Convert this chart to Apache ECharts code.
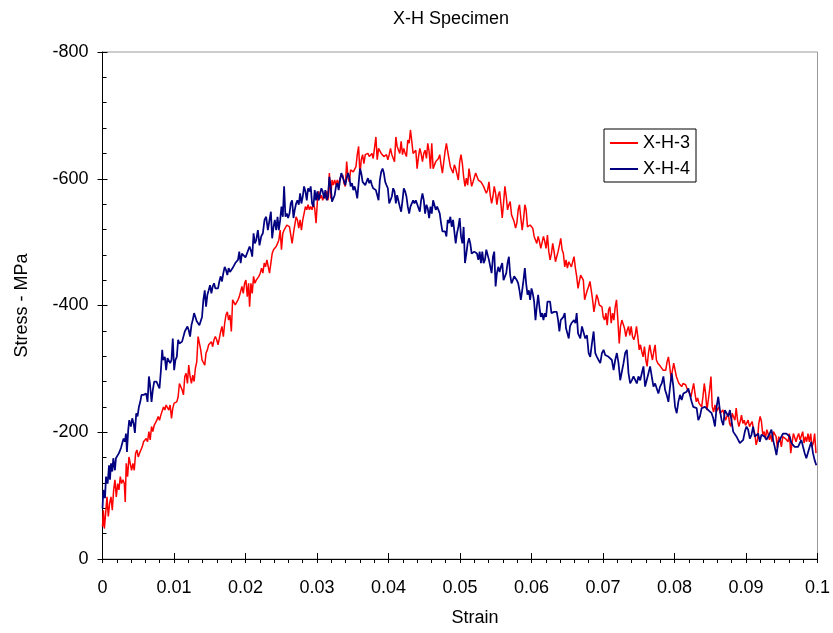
<!DOCTYPE html>
<html lang="en">
<head>
<meta charset="UTF-8">
<title>X-H Specimen</title>
<script src="https://cdn.jsdelivr.net/npm/echarts@6/dist/echarts.min.js"></script>
<style type="text/css">
    html, body { margin: 0; padding: 0; background: #fff; }
    #main { width: 833px; height: 633px; }
</style>
</head>
<body>
<div id="main"></div>
<script type="text/javascript">
// X-H-3 : strain / stress (MPa)
var strain3 = [
0.00000,0.00012,0.00026,0.00044,0.00063,0.00081,0.00100,0.00119,0.00137,0.00156,0.00174,0.00193,0.00212,0.00230,0.00249,0.00267,0.00286,0.00305,0.00318,0.00332,
0.00351,0.00370,0.00388,0.00407,0.00425,0.00444,0.00463,0.00481,0.00500,0.00518,0.00537,0.00556,0.00574,0.00593,0.00611,0.00630,0.00649,0.00667,0.00686,0.00704,
0.00723,0.00742,0.00760,0.00779,0.00797,0.00816,0.00835,0.00853,0.00872,0.00890,0.00909,0.00927,0.00946,0.00965,0.00983,0.01002,0.01020,0.01039,0.01058,0.01076,
0.01095,0.01113,0.01132,0.01151,0.01169,0.01188,0.01206,0.01225,0.01244,0.01262,0.01281,0.01299,0.01318,0.01337,0.01355,0.01374,0.01392,0.01411,0.01430,0.01448,
0.01467,0.01485,0.01504,0.01523,0.01541,0.01560,0.01578,0.01597,0.01616,0.01634,0.01653,0.01671,0.01690,0.01709,0.01727,0.01746,0.01764,0.01783,0.01802,0.01820,
0.01839,0.01857,0.01876,0.01895,0.01913,0.01932,0.01950,0.01969,0.01987,0.02006,0.02025,0.02043,
0.02057,0.02076,0.02094,0.02113,0.02131,0.02150,0.02169,0.02187,0.02206,0.02224,0.02243,0.02262,0.02280,0.02299,0.02317,0.02336,0.02355,0.02373,0.02392,0.02410,
0.02429,0.02448,0.02466,0.02485,0.02503,0.02522,0.02540,0.02559,0.02578,0.02596,0.02615,0.02633,0.02652,0.02671,0.02689,0.02708,0.02726,0.02745,0.02764,0.02782,
0.02801,0.02819,0.02838,0.02857,0.02875,0.02894,0.02912,0.02931,0.02950,0.02968,0.02987,0.03005,0.03024,0.03043,0.03061,0.03080,0.03098,0.03117,0.03136,0.03154,
0.03173,0.03191,0.03210,0.03229,0.03247,0.03266,0.03284,0.03303,0.03322,0.03340,0.03359,0.03377,0.03396,0.03415,0.03433,0.03452,0.03470,0.03489,0.03508,0.03526,
0.03545,0.03563,0.03582,0.03601,0.03619,0.03638,0.03656,0.03675,0.03694,0.03712,0.03731,0.03749,0.03768,0.03786,0.03805,0.03824,0.03842,0.03861,0.03879,0.03898,
0.03917,0.03935,0.03954,0.03972,0.03991,0.04010,0.04028,0.04047,0.04065,0.04084,0.04103,0.04121,0.04140,0.04158,0.04177,0.04196,0.04214,0.04233,0.04251,0.04270,
0.04289,0.04307,0.04326,0.04344,0.04363,0.04382,0.04400,0.04420,
0.04438,0.04456,0.04475,0.04494,0.04512,0.04531,0.04549,0.04568,0.04587,0.04605,0.04624,0.04642,0.04661,0.04680,0.04698,0.04717,0.04735,0.04754,0.04772,0.04791,
0.04810,0.04828,0.04847,0.04865,0.04884,0.04903,0.04921,0.04940,0.04958,0.04977,0.04996,0.05014,0.05033,0.05051,0.05070,0.05089,0.05107,0.05126,0.05144,0.05163,
0.05182,0.05200,0.05219,0.05237,0.05256,0.05275,0.05293,0.05312,0.05330,0.05349,0.05368,0.05386,0.05405,0.05423,0.05442,0.05461,0.05479,0.05498,0.05516,0.05535,
0.05554,0.05572,0.05591,0.05609,0.05628,0.05647,0.05665,0.05684,0.05702,0.05721,0.05739,0.05758,0.05777,0.05795,0.05814,0.05832,0.05851,0.05870,0.05888,0.05907,
0.05925,0.05944,0.05963,0.05981,0.06000,0.06018,0.06037,0.06056,0.06074,0.06093,0.06111,0.06130,0.06149,0.06167,0.06186,0.06204,0.06223,0.06242,0.06260,0.06279,
0.06297,0.06316,0.06335,0.06353,0.06372,0.06390,0.06409,0.06428,0.06446,0.06465,0.06483,0.06502,0.06521,0.06539,0.06558,0.06576,0.06595,0.06614,0.06632,0.06651,
0.06669,0.06687,0.06706,0.06725,0.06743,0.06762,0.06780,0.06799,0.06818,0.06836,0.06855,0.06873,0.06892,0.06911,0.06929,0.06948,0.06966,0.06985,0.07003,0.07022,
0.07041,0.07059,0.07078,0.07096,0.07115,0.07134,0.07152,0.07171,0.07189,0.07208,0.07227,0.07245,0.07264,0.07282,0.07301,0.07320,0.07338,0.07357,0.07375,0.07394,
0.07413,0.07431,0.07450,0.07468,0.07487,0.07506,0.07524,0.07543,0.07561,0.07580,0.07599,0.07617,0.07636,0.07654,0.07673,0.07692,0.07710,0.07729,0.07747,0.07766,
0.07785,0.07803,0.07822,0.07840,0.07859,0.07878,0.07896,0.07915,0.07933,0.07952,0.07970,0.07989,0.08008,0.08026,0.08045,0.08063,0.08082,0.08101,0.08119,0.08138,
0.08156,0.08175,0.08194,0.08212,0.08231,0.08249,0.08268,0.08287,0.08305,0.08324,0.08342,0.08361,0.08380,0.08398,0.08417,0.08435,0.08454,0.08473,0.08491,0.08510,
0.08528,0.08547,0.08566,0.08584,0.08603,0.08621,0.08640,0.08659,0.08677,0.08696,0.08714,0.08733,0.08752,0.08770,0.08789,0.08807,0.08826,0.08845,0.08863,0.08882,
0.08900,0.08919,0.08937,0.08956,0.08975,0.08993,0.09012,0.09030,0.09049,0.09068,0.09086,0.09105,0.09123,0.09142,0.09161,0.09179,0.09198,0.09216,0.09235,0.09254,
0.09272,0.09291,0.09309,0.09328,0.09347,0.09365,0.09384,0.09402,0.09421,0.09440,0.09458,0.09477,0.09495,0.09514,0.09533,0.09551,0.09570,0.09588,0.09607,0.09626,
0.09644,0.09663,0.09681,0.09700,0.09719,0.09737,0.09756,0.09774,0.09793,0.09812,0.09830,0.09849,0.09867,0.09886,0.09905,0.09923,0.09942,0.09960,0.09979
];
var stress3 = [
-51,-77,-48,-72,-98,-67,-88,-98,-77,-109,-125,-98,-119,-109,-130,-119,-125,-119,-90,-151,
-130,-161,-151,-140,-151,-140,-167,-172,-161,-167,-172,-177,-185,-188,-190,-185,-201,-188,-209,-201,
-211,-209,-219,-225,-219,-227,-225,-240,-235,-243,-240,-235,-243,-222,-238,-246,-243,-248,-256,-277,
-280,-267,-259,-288,-293,-277,-306,-288,-277,-290,-280,-301,-311,-351,-348,-330,-314,-317,-306,-325,
-330,-338,-335,-343,-335,-346,-351,-346,-338,-348,-359,-367,-351,-372,-385,-390,-377,-385,-359,-409,
-406,-401,-398,-409,-414,-422,-430,-419,-435,-440,-414,-435,
-398,-435,-419,-446,-435,-440,-438,-446,-451,-459,-451,-467,-461,-472,-469,-451,-448,-482,-488,-485,
-493,-498,-503,-519,-488,-514,-519,-517,-527,-527,-524,-527,-498,-514,-527,-540,-535,-522,-535,-519,
-535,-545,-556,-551,-559,-551,-556,-551,-561,-553,-530,-564,-580,-569,-574,-566,-574,-569,-580,-566,
-609,-569,-598,-590,-598,-590,-598,-590,-601,-598,-606,-593,-588,-627,-603,-595,-614,-616,-611,-609,
-619,-638,-651,-606,-630,-638,-624,-638,-638,-640,-635,-638,-640,-632,-635,-666,-630,-648,-645,-640,
-638,-635,-632,-638,-630,-638,-648,-638,-640,-627,-666,-651,-653,-640,-659,-638,-648,-640,-635,-661,
-656,-677,-659,-640,-638,-645,-616,-635,
-648,-640,-627,-640,-645,-632,-656,-643,-616,-656,-616,-619,-627,-624,-632,-638,-622,-609,-609,-643,
-656,-643,-640,-619,-619,-609,-622,-616,-614,-598,-627,-638,-624,-603,-588,-601,-590,-616,-619,-588,
-595,-598,-609,-606,-598,-595,-595,-593,-588,-585,-577,-582,-595,-574,-561,-572,-588,-577,-559,-574,
-580,-561,-538,-561,-588,-572,-551,-559,-564,-543,-540,-532,-522,-530,-551,-559,-538,-519,-535,-559,
-551,-524,-527,-527,-530,-522,-509,-511,-498,-509,-501,-490,-488,-509,-501,-490,-511,-485,-472,-482,
-498,-485,-469,-477,-485,-495,-506,-488,-482,-461,-472,-459,-469,-467,-461,-469,-477,-459,-446,-427,
-438,-448,-451,-440,-409,-417,-424,-430,-438,-424,-409,-390,-403,-417,-411,-401,-398,-398,-382,-377,
-388,-369,-393,-398,-372,-388,-377,-398,-409,-377,-340,-367,-377,-375,-364,-351,-361,-367,-353,-367,
-351,-346,-353,-367,-351,-330,-338,-327,-319,-335,-314,-304,-325,-338,-325,-314,-327,-338,-314,-309,
-311,-304,-301,-298,-301,-298,-311,-319,-304,-285,-282,-309,-306,-288,-282,-277,-280,-272,-277,-280,
-275,-269,-267,-261,-256,-267,-277,-261,-248,-254,-246,-248,-240,-256,-277,-261,-235,-251,-267,-288,
-240,-232,-243,-232,-230,-240,-230,-232,-235,-227,-219,-225,-230,-214,-209,-230,-232,-219,-238,-219,
-209,-217,-227,-214,-219,-211,-214,-219,-209,-211,-217,-204,-198,-180,-188,-214,-225,-217,-196,-201,
-190,-204,-198,-188,-196,-185,-201,-198,-193,-175,-193,-188,-177,-193,-196,-190,-193,-185,-198,-167,
-164,-198,-196,-185,-193,-198,-188,-185,-201,-183,-193,-185,-198,-185,-198,-177,-183,-198,-167
];

// X-H-4 : strain / stress (MPa)
var strain4 = [
0.00000,0.00012,0.00035,0.00049,0.00072,0.00091,0.00105,0.00119,0.00137,0.00151,0.00174,0.00188,0.00212,0.00230,0.00258,0.00277,0.00295,0.00314,0.00328,0.00342,
0.00360,0.00374,0.00397,0.00416,0.00435,0.00453,0.00472,0.00490,0.00509,0.00528,0.00546,0.00574,0.00593,0.00611,0.00630,0.00649,0.00663,0.00686,0.00704,0.00723,
0.00755,0.00779,0.00797,0.00816,0.00835,0.00848,0.00872,0.00890,0.00909,0.00927,0.00946,0.00965,0.00983,0.01002,0.01020,0.01039,0.01058,0.01076,0.01095,0.01113,
0.01132,0.01151,0.01169,0.01188,0.01206,0.01225,0.01244,0.01262,0.01281,0.01299,0.01318,0.01337,0.01355,0.01374,0.01392,0.01411,0.01430,0.01448,0.01467,0.01485,
0.01504,0.01523,0.01541,0.01560,0.01578,0.01597,0.01616,0.01634,0.01653,0.01671,0.01690,0.01709,0.01727,0.01746,0.01764,0.01783,0.01802,0.01820,0.01839,0.01857,
0.01876,0.01895,0.01913,0.01932,0.01950,0.02000,
0.02057,0.02080,0.02094,0.02113,0.02131,0.02150,0.02173,0.02196,0.02220,0.02243,0.02266,0.02289,0.02313,0.02336,0.02355,0.02373,0.02392,0.02410,0.02429,0.02448,
0.02466,0.02485,0.02503,0.02522,0.02540,0.02559,0.02578,0.02596,0.02615,0.02633,0.02652,0.02671,0.02689,0.02708,0.02726,0.02745,0.02764,0.02782,0.02801,0.02819,
0.02838,0.02857,0.02875,0.02894,0.02912,0.02931,0.02950,0.02968,0.02987,0.03005,0.03024,0.03043,0.03061,0.03080,0.03098,0.03117,0.03136,0.03154,0.03173,0.03191,
0.03210,0.03229,0.03247,0.03266,0.03284,0.03303,0.03322,0.03340,0.03359,0.03377,0.03396,0.03415,0.03433,0.03452,0.03470,0.03489,0.03508,0.03526,0.03545,0.03563,
0.03582,0.03601,0.03619,0.03638,0.03656,0.03675,0.03694,0.03712,0.03731,0.03749,0.03768,0.03786,0.03805,0.03824,0.03842,0.03861,0.03879,0.03898,0.03917,0.03935,
0.03954,0.03972,0.03991,0.04010,0.04028,0.04047,0.04065,0.04084,0.04103,0.04121,0.04140,0.04158,0.04177,0.04196,0.04214,0.04233,0.04251,0.04270,0.04289,0.04307,
0.04326,0.04344,0.04363,0.04382,0.04405,
0.04438,0.04456,0.04475,0.04494,0.04512,0.04531,0.04549,0.04568,0.04587,0.04605,0.04624,0.04642,0.04661,0.04680,0.04698,0.04717,0.04735,0.04754,0.04772,0.04791,
0.04810,0.04828,0.04847,0.04865,0.04884,0.04903,0.04921,0.04940,0.04958,0.04977,0.04996,0.05014,0.05033,0.05051,0.05070,0.05089,0.05107,0.05126,0.05144,0.05163,
0.05182,0.05200,0.05219,0.05237,0.05256,0.05275,0.05293,0.05312,0.05330,0.05349,0.05368,0.05386,0.05405,0.05423,0.05442,0.05461,0.05479,0.05498,0.05516,0.05535,
0.05554,0.05572,0.05591,0.05609,0.05628,0.05647,0.05665,0.05684,0.05702,0.05721,0.05739,0.05758,0.05777,0.05795,0.05814,0.05832,0.05851,0.05870,0.05888,0.05907,
0.05925,0.05944,0.05963,0.05981,0.06000,0.06018,0.06037,0.06056,0.06074,0.06093,0.06111,0.06130,0.06149,0.06167,0.06186,0.06204,0.06223,0.06242,0.06260,0.06279,
0.06297,0.06316,0.06335,0.06353,0.06372,0.06390,0.06409,0.06428,0.06446,0.06465,0.06483,0.06502,0.06521,0.06539,0.06558,0.06576,0.06595,0.06614,0.06632,0.06651,
0.06683,0.06706,0.06729,0.06752,0.06776,0.06799,0.06822,0.06845,0.06869,0.06892,0.06915,0.06938,0.06962,0.06985,0.07008,0.07031,0.07055,0.07078,0.07101,0.07124,
0.07148,0.07171,0.07194,0.07217,0.07241,0.07264,0.07287,0.07310,0.07334,0.07357,0.07380,0.07403,0.07427,0.07450,0.07473,0.07496,0.07520,0.07543,0.07566,0.07589,
0.07613,0.07636,0.07659,0.07682,0.07706,0.07729,0.07752,0.07775,0.07798,0.07822,0.07845,0.07868,0.07891,0.07915,0.07938,0.07961,0.07984,0.08008,0.08031,0.08054,
0.08077,0.08101,0.08124,0.08147,0.08170,0.08194,0.08217,0.08240,0.08263,0.08287,0.08310,0.08333,0.08356,0.08380,0.08403,0.08426,0.08449,0.08473,0.08496,0.08519,
0.08542,0.08566,0.08589,0.08612,0.08635,0.08659,0.08682,0.08705,0.08728,0.08752,0.08775,0.08798,0.08821,0.08845,0.08868,0.08891,0.08914,0.08937,0.08961,0.08984,
0.09007,0.09030,0.09054,0.09077,0.09100,0.09123,0.09147,0.09170,0.09193,0.09216,0.09240,0.09263,0.09286,0.09309,0.09333,0.09356,0.09379,0.09402,0.09426,0.09449,
0.09472,0.09495,0.09519,0.09542,0.09565,0.09588,0.09612,0.09635,0.09658,0.09681,0.09705,0.09728,0.09751,0.09774,0.09798,0.09821,0.09844,0.09867,0.09891,0.09914,
0.09937,0.09960,0.09984
];
var stress4 = [
-80,-109,-96,-130,-119,-148,-125,-151,-138,-159,-140,-159,-156,-167,-175,-183,-190,-185,-198,-169,
-204,-219,-209,-222,-214,-199,-230,-225,-240,-248,-259,-259,-256,-261,-248,-288,-277,-248,-267,-280,
-280,-277,-269,-296,-330,-314,-319,-298,-317,-319,-309,-314,-348,-298,-314,-319,-346,-340,-338,-343,
-340,-359,-356,-367,-361,-351,-369,-377,-388,-385,-375,-375,-369,-367,-382,-409,-424,-398,-417,-424,
-432,-419,-430,-435,-427,-430,-427,-438,-446,-438,-451,-461,-456,-448,-459,-453,-451,-459,-461,-467,
-464,-472,-485,-467,-482,-476,
-493,-485,-477,-514,-498,-503,-519,-495,-509,-514,-535,-540,-519,-535,-548,-506,-524,-535,-519,-540,
-519,-535,-556,-540,-588,-540,-545,-538,-545,-561,-566,-538,-551,-561,-566,-559,-577,-561,-572,-588,
-580,-566,-585,-580,-588,-561,-556,-582,-566,-580,-566,-564,-585,-580,-569,-582,-566,-572,-603,-588,
-564,-566,-574,-588,-593,-582,-598,-609,-603,-606,-590,-601,-609,-603,-588,-593,-582,-588,-580,-569,
-566,-616,-609,-595,-598,-590,-588,-601,-593,-598,-590,-585,-588,-582,-585,-566,-598,-611,-616,-609,
-595,-590,-585,-561,-559,-572,-585,-580,-561,-574,-577,-556,-548,-566,-585,-580,-572,-556,-545,-556,
-561,-566,-561,-566,-564,
-548,-566,-577,-566,-545,-559,-553,-538,-556,-545,-566,-569,-551,-556,-551,-545,-530,-517,-519,-517,
-509,-535,-530,-540,-524,-535,-535,-498,-514,-524,-538,-509,-498,-524,-467,-482,-498,-506,-498,-482,
-480,-485,-488,-482,-472,-485,-467,-485,-467,-472,-488,-488,-472,-474,-451,-477,-485,-430,-451,-461,
-453,-461,-467,-440,-440,-451,-467,-477,-448,-435,-440,-446,-448,-440,-435,-424,-409,-424,-440,-459,
-435,-417,-424,-409,-427,-419,-406,-377,-398,-417,-398,-382,-388,-377,-388,-382,-406,-409,-406,-388,
-388,-390,-388,-390,-377,-359,-377,-380,-382,-388,-364,-356,-348,-367,-372,-374,-377,-372,-388,-356,
-348,-367,-369,-348,-353,-325,-319,-340,-359,-325,-319,-314,-309,-325,-330,-322,-325,-319,-322,-314,
-298,-314,-325,-309,-282,-280,-309,-325,-330,-293,-277,-282,-288,-285,-277,-288,-282,-293,-304,-272,
-269,-293,-304,-288,-272,-277,-275,-261,-272,-277,-288,-267,-259,-248,-272,-293,-272,-240,-230,-248,
-259,-251,-261,-259,-264,-269,-267,-248,-240,-243,-238,-219,-225,-238,-238,-240,-238,-235,-235,-230,
-222,-209,-240,-256,-235,-219,-211,-235,-238,-225,-235,-235,-201,-198,-193,-188,-183,-183,-188,-201,
-209,-204,-190,-196,-209,-193,-193,-198,-185,-196,-193,-193,-188,-185,-198,-204,-188,-177,-164,-183,
-188,-193,-198,-198,-198,-198,-193,-183,-180,-177,-177,-177,-180,-188,-177,-167,-159,-161,-177,-185,
-167,-156,-148
];

var seriesNames = ['X-H-3', 'X-H-4'];
var seriesColors = ['#ff0000', '#000080'];

function pairUp(xs, ys) {
    var out = [];
    for (var i = 0; i < xs.length && i < ys.length; i++) {
        out.push([xs[i], ys[i]]);
    }
    return out;
}

var font = 'Liberation Sans';
var myChart = echarts.init(document.getElementById('main'), null, { renderer: 'canvas' });

var option = {
    animation: false,
    backgroundColor: '#ffffff',
    textStyle: { fontFamily: font, color: '#000' },
    title: {
        text: 'X-H Specimen',
        left: 393,
        top: 10,
        padding: 0,
        textStyle: { fontFamily: font, fontSize: 18, fontWeight: 'normal', color: '#000' }
    },
    legend: {
        orient: 'vertical',
        left: 604,
        top: 129,
        padding: [5, 6, 4, 6],
        itemGap: 8,
        itemWidth: 28,
        itemHeight: 2,
        icon: 'rect',
        borderColor: '#000',
        borderWidth: 1,
        borderRadius: 0,
        backgroundColor: '#fff',
        textStyle: { fontFamily: font, fontSize: 18, color: '#000' },
        data: seriesNames
    },
    grid: {
        left: 102.5,
        right: 14,
        top: 52,
        bottom: 74,
        show: true,
        borderColor: '#999',
        borderWidth: 1,
        backgroundColor: '#fff'
    },
    xAxis: [{
        type: 'value',
        position: 'bottom',
        min: 0,
        max: 0.1,
        interval: 0.01,
        name: 'Strain',
        nameLocation: 'middle',
        nameGap: 50,
        nameTextStyle: { fontFamily: font, fontSize: 18, color: '#000', padding: [0, 0, 0, 30] },
        axisLine: { onZero: false, lineStyle: { color: '#000', width: 1 } },
        axisTick: { inside: true, length: 6, lineStyle: { color: '#000' } },
        axisLabel: { margin: 20, fontFamily: font, fontSize: 18, color: '#000' },
        splitLine: { show: false }
    }, {
        type: 'value',
        position: 'bottom',
        min: 0,
        max: 0.1,
        interval: 0.01,
        axisLine: { show: false, onZero: false },
        axisTick: { inside: false, length: 4, lineStyle: { color: '#000' } },
        minorTick: { show: true, splitNumber: 5, length: 4, lineStyle: { color: '#000' } },
        axisLabel: { show: false },
        splitLine: { show: false }
    }],
    yAxis: [{
        type: 'value',
        position: 'left',
        min: -800,
        max: 0,
        interval: 200,
        inverse: true,
        name: 'Stress - MPa',
        nameLocation: 'middle',
        nameGap: 71,
        nameTextStyle: { fontFamily: font, fontSize: 18, color: '#000' },
        axisLine: { onZero: false, lineStyle: { color: '#000', width: 1 } },
        axisTick: { inside: false, length: 5, lineStyle: { color: '#000' } },
        axisLabel: { margin: 14, fontFamily: font, fontSize: 18, color: '#000' },
        splitLine: { show: false }
    }, {
        type: 'value',
        position: 'left',
        min: -800,
        max: 0,
        interval: 200,
        inverse: true,
        axisLine: { show: false, onZero: false },
        axisTick: { inside: true, length: 5, lineStyle: { color: '#000' } },
        minorTick: { show: true, splitNumber: 5, length: 4, lineStyle: { color: '#000' } },
        axisLabel: { show: false },
        splitLine: { show: false }
    }],
    series: [{
        name: seriesNames[0],
        type: 'line',
        showSymbol: false,
        symbol: 'none',
        color: seriesColors[0],
        lineStyle: { color: seriesColors[0], width: 1.5 },
        data: pairUp(strain3, stress3)
    }, {
        name: seriesNames[1],
        type: 'line',
        showSymbol: false,
        symbol: 'none',
        color: seriesColors[1],
        lineStyle: { color: seriesColors[1], width: 1.75 },
        data: pairUp(strain4, stress4)
    }]
};

myChart.setOption(option);
</script>
</body>
</html>
